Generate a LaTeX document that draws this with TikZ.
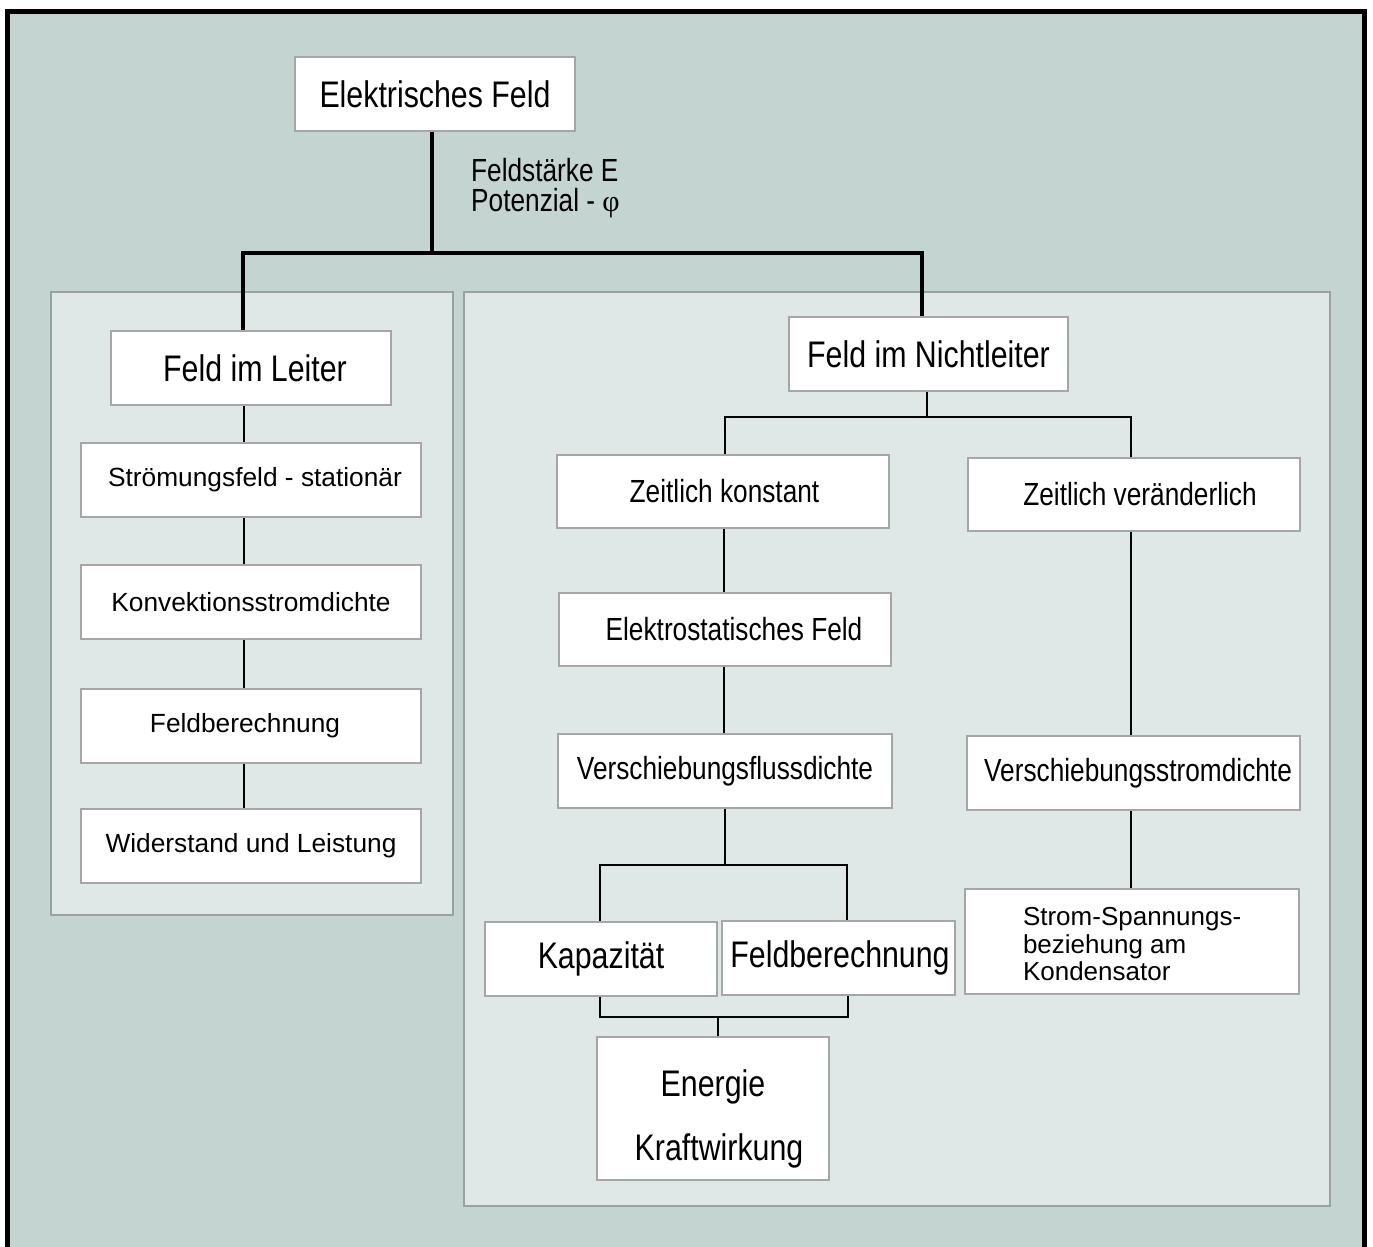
\documentclass[tikz,border=0pt]{standalone}
\usepackage{fontspec}
\setmainfont{Liberation Sans}
\newfontfamily\narfont[FakeStretch=0.82]{Liberation Sans}
\newfontfamily\phifont{Liberation Serif}
\definecolor{outerbg}{HTML}{C4D4D1}
\definecolor{panelbg}{HTML}{E0E8E7}
\definecolor{panelline}{HTML}{98A3A1}
\definecolor{boxline}{HTML}{A6A6A6}
\tikzset{
  box/.style={rectangle, fill=white, draw=boxline, line width=1.3pt, inner sep=0pt, align=center},
  smallwide/.style={box, font=\fontsize{26.3}{30}\selectfont},
  smallnar/.style={box, font=\narfont\fontsize{32}{29}\selectfont},
  bignar/.style={box, font=\narfont\fontsize{37}{37}\selectfont},
  panel/.style={fill=panelbg, draw=panelline, line width=1.5pt},
  thickline/.style={draw=black, line width=4pt},
  thinline/.style={draw=black, line width=2pt},
  bracket/.style={draw=black, line width=2.6pt},
  lbl/.style={inner sep=0pt, anchor=west, font=\narfont\fontsize{32}{32}\selectfont}
}
\begin{document}
\begin{tikzpicture}[x=1pt, y=-1pt]
\useasboundingbox (0,0) rectangle (1373,1247);
\clip (0,0) rectangle (1373,1247);
\fill[white] (0,0) rectangle (1373,1247);
\fill[outerbg] (7,11) rectangle (1364,1260);
\draw[black, line width=5pt] (7,1265) -- (7,11.5) -- (1364.5,11.5) -- (1364.5,1265);

% panels
\draw[panel] (51,292) rectangle (453,915);
\draw[panel] (464,292) rectangle (1330,1206);

% boxes
\node[bignar, minimum width=280pt, minimum height=74pt] (top) at (435,94) {Elektrisches Feld};
\node[bignar, minimum width=280pt, minimum height=74pt] (leiter) at (251,368) {\hspace*{8pt}Feld im Leiter};
\node[smallwide, minimum width=340pt, minimum height=74pt] (stroem) at (251,480) {\hspace*{8pt}Strömungsfeld - stationär};
\node[smallwide, minimum width=340pt, minimum height=74pt] (konv) at (251,602) {Konvektionsstromdichte};
\node[smallwide, minimum width=340pt, minimum height=74pt] (feldbA) at (251,726) {Feldberechnung\hspace*{12pt}};
\node[smallwide, minimum width=340pt, minimum height=74pt] (wid) at (251,846) {Widerstand und Leistung};

\node[bignar, minimum width=279pt, minimum height=74pt] (nicht) at (928.5,354) {Feld im Nichtleiter};
\node[smallnar, minimum width=332pt, minimum height=73pt] (zk) at (723,491.5) {\hspace*{3pt}Zeitlich konstant};
\node[smallnar, minimum width=332pt, minimum height=73pt] (zv) at (1134,494.5) {\hspace*{12pt}Zeitlich veränderlich};
\node[smallnar, minimum width=332pt, minimum height=73pt] (elst) at (725,629.5) {\hspace*{18pt}Elektrostatisches Feld};
\node[smallnar, minimum width=334pt, minimum height=74pt] (vfd) at (725,771) {Verschiebungsflussdichte};
\node[smallnar, minimum width=333pt, minimum height=74pt] (vsd) at (1133.5,773) {\hspace*{9pt}Verschiebungsstromdichte};
\node[bignar, minimum width=232pt, minimum height=74pt] (kap) at (601,959) {Kapazität};
\node[bignar, minimum width=233pt, minimum height=74pt] (feldbB) at (838.5,958) {\hspace*{3pt}Feldberechnung};
\node[box, font=\fontsize{26}{27.5}\selectfont, minimum width=334pt, minimum height=105pt] (ssb) at (1132,941.5)
  {\begin{minipage}[c][105pt][c]{334pt}\raggedright\leftskip=58pt\vspace*{6pt}Strom-Spannungs-\\beziehung am\\Kondensator\end{minipage}};
\node[bignar, minimum width=232pt, minimum height=143pt] (energie) at (713,1108.5)
  {\begin{minipage}[c][143pt][c]{232pt}\centering\vspace*{20pt}Energie\\[27pt]\hspace*{12pt}Kraftwirkung\end{minipage}};

% label
\node[lbl] (l1) at (471,170) {Feldstärke E};
\node[lbl] (l2) at (471,203) {Potenzial - {\phifont\fontsize{30}{30}\selectfont φ}};

% thick connectors
\coordinate (j1) at (432,253);
\coordinate (bL) at (243,253);
\coordinate (bR) at (922,253);
\draw[thickline] (top.south -| j1) -- (j1);
\draw[thickline, line join=miter] (leiter.north -| bL) -- (bL) -- (bR) -- (nicht.north -| bR);

% left chain
\coordinate (cL) at (244,0);
\draw[thinline] (leiter.south -| cL) -- (stroem.north -| cL);
\draw[thinline] (stroem.south -| cL) -- (konv.north -| cL);
\draw[thinline] (konv.south -| cL) -- (feldbA.north -| cL);
\draw[thinline] (feldbA.south -| cL) -- (wid.north -| cL);

% right tree
\coordinate (j2) at (927,417);
\coordinate (b2L) at (725,417);
\coordinate (b2R) at (1131,417);
\draw[thinline] (nicht.south -| j2) -- (j2);
\draw[thinline, line width=2.4pt] (zk.north -| b2L) -- (b2L) -- (b2R) -- (zv.north -| b2R);

\coordinate (cM) at (723.5,0);
\draw[thinline] (zk.south -| cM) -- (elst.north -| cM);
\draw[thinline] (elst.south -| cM) -- (vfd.north -| cM);

\coordinate (cR) at (1131,0);
\draw[thinline] (zv.south -| cR) -- (vsd.north -| cR);
\draw[thinline] (vsd.south -| cR) -- (ssb.north -| cR);

% lower brackets
\coordinate (j3) at (725,865);
\coordinate (b3L) at (600,865);
\coordinate (b3R) at (847,865);
\draw[thinline] (vfd.south -| j3) -- (j3);
\draw[bracket] (kap.north -| b3L) -- (b3L) -- (b3R) -- (feldbB.north -| b3R);

\coordinate (b4L) at (600,1017);
\coordinate (b4R) at (848,1017);
\coordinate (j4) at (718,1017);
\draw[bracket] (kap.south -| b4L) -- (b4L) -- (b4R) -- (feldbB.south -| b4R);
\draw[thinline] (j4) -- (energie.north -| j4);
\end{tikzpicture}
\end{document}
